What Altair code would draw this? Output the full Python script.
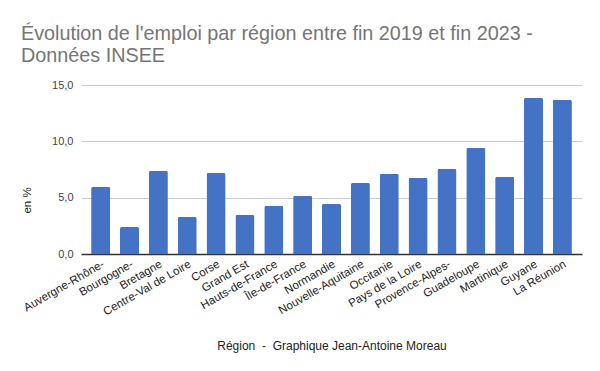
import altair as alt
import pandas as pd

regions = ["Auvergne-Rhône-", "Bourgogne-", "Bretagne", "Centre-Val de Loire", "Corse",
           "Grand Est", "Hauts-de-France", "Île-de-France", "Normandie", "Nouvelle-Aquitaine",
           "Occitanie", "Pays de la Loire", "Provence-Alpes-", "Guadeloupe", "Martinique",
           "Guyane", "La Réunion"]
values = [5.96, 2.40, 7.38, 3.29, 7.20, 3.47, 4.27, 5.16, 4.45, 6.31,
          7.12, 6.76, 7.56, 9.43, 6.85, 13.87, 13.70]

df = pd.DataFrame({"region": regions, "val": values})

title = alt.TitleParams(
    text=["Évolution de l'emploi par région entre fin 2019 et fin 2023 -", "Données INSEE"],
    anchor="start", dx=0, fontSize=19.8, font="Liberation Sans", fontWeight="normal",
    color="#757575", lineHeight=22, offset=13)

chart = alt.Chart(df, title=title).mark_bar(
    color="#4472C4", cornerRadiusTopLeft=2, cornerRadiusTopRight=2
).encode(
    x=alt.X("region:N", sort=regions, scale=alt.Scale(paddingInner=0.34, paddingOuter=0.35),
            axis=alt.Axis(title="Région\u00a0\u00a0-\u00a0\u00a0Graphique Jean-Antoine Moreau",
                          labelAngle=-30,
                          labelAlign="right", labelBaseline="top", labelPadding=4,
                          ticks=False, domainColor="#333333", domainWidth=1.5,
                          labelFont="Liberation Sans", labelFontSize=11.5, labelColor="#222222",
                          titleFont="Liberation Sans", titleFontSize=12, titleFontWeight="normal",
                          titleColor="#222222", titleY=86, labelOverlap=False)),
    y=alt.Y("val:Q", scale=alt.Scale(domain=[0, 15]),
            axis=alt.Axis(title="en %", values=[0, 5, 10, 15],
                          labelExpr="replace(format(datum.value, '.1f'), '.', ',')",
                          ticks=False, domain=False, gridColor="#cccccc",
                          labelFont="Liberation Sans", labelFontSize=11, labelColor="#444444",
                          labelPadding=8,
                          titleFont="Liberation Sans", titleFontSize=11.5, titleFontWeight="normal",
                          titleColor="#222222", titleX=-49, titleY=115))
).properties(
    width=501, height=169,
    autosize=alt.AutoSizeParams(type="none"),
    padding={"left": 73, "top": 77, "right": 10, "bottom": 110}
).configure_view(stroke=None)

chart.save("out.html", embed_options={"renderer": "svg", "actions": False})
